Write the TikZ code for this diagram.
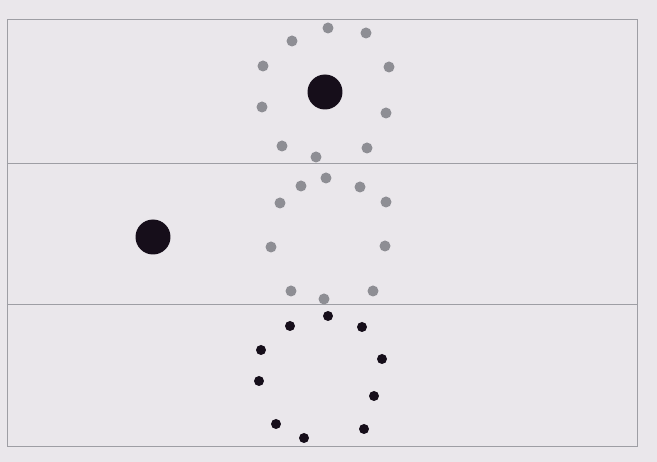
\documentclass[tikz,border=0pt]{standalone}
\usepackage{tikz}
\definecolor{paper}{RGB}{234,231,235}
\definecolor{pencil}{RGB}{158,158,164}
\definecolor{greydot}{RGB}{142,142,148}
\definecolor{ink}{RGB}{22,14,26}
\tikzset{
    bands/.style={
        x=0.02cm, y=-0.02cm,
        frame/.style={draw=pencil, line width=0.5pt},
        grey/.style={circle, fill=greydot, inner sep=0pt, minimum size=0.22cm},
        black/.style={circle, fill=ink, inner sep=0pt, minimum size=0.2cm},
        big/.style={circle, fill=ink, inner sep=0pt, minimum size=0.7cm},
    },
}
\begin{document}
\begin{tikzpicture}[bands]
            \fill[paper] (0,0) rectangle (657,462);
            \useasboundingbox (0,0) rectangle (657,462);
            \draw[frame] (7,19) rectangle (637,446);
            \draw[frame] (7,163) -- (637,163);
            \draw[frame] (7,304) -- (637,304);
            % top band
            \node[big] (topbig) at (325,92) {};
            \node[grey] (t1)  at (328,28)  {};
            \node[grey] (t2)  at (366,33)  {};
            \node[grey] (t3)  at (292,41)  {};
            \node[grey] (t4)  at (389,67)  {};
            \node[grey] (t5)  at (263,66)  {};
            \node[grey] (t6)  at (262,107) {};
            \node[grey] (t7)  at (386,113) {};
            \node[grey] (t8)  at (282,146) {};
            \node[grey] (t9)  at (316,157) {};
            \node[grey] (t10) at (367,148) {};
            % middle band
            \node[big] (midbig) at (153,237) {};
            \node[grey] (m1)  at (326,178) {};
            \node[grey] (m2)  at (301,186) {};
            \node[grey] (m3)  at (360,187) {};
            \node[grey] (m4)  at (280,203) {};
            \node[grey] (m5)  at (386,202) {};
            \node[grey] (m6)  at (271,247) {};
            \node[grey] (m7)  at (385,246) {};
            \node[grey] (m8)  at (291,291) {};
            \node[grey] (m9)  at (373,291) {};
            \node[grey] (m10) at (324,299) {};
            % bottom band
            \node[black] (b1)  at (328,316) {};
            \node[black] (b2)  at (290,326) {};
            \node[black] (b3)  at (362,327) {};
            \node[black] (b4)  at (261,350) {};
            \node[black] (b5)  at (382,359) {};
            \node[black] (b6)  at (259,381) {};
            \node[black] (b7)  at (374,396) {};
            \node[black] (b8)  at (276,424) {};
            \node[black] (b9)  at (304,438) {};
            \node[black] (b10) at (364,429) {};
        \end{tikzpicture}
\end{document}
